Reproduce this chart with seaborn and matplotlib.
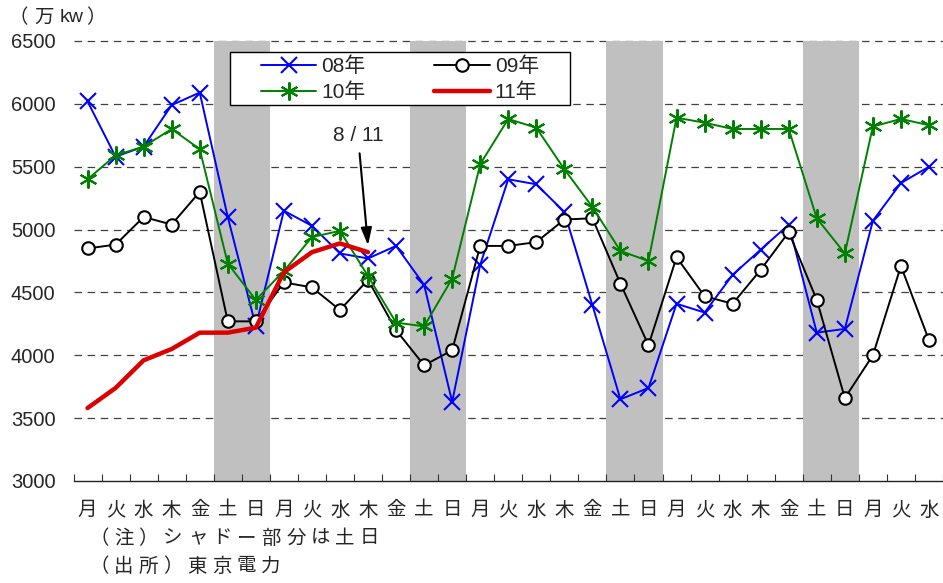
import numpy as np
import matplotlib
matplotlib.use("Agg")
import matplotlib.pyplot as plt
from matplotlib.patches import Rectangle
import seaborn as sns

# Weekday labels for the 31 days shown (Mon start)
days = ["月", "火", "水", "木", "金", "土", "日"] * 4 + ["月", "火", "水"]

# Daily peak demand, 10,000 kW
y08 = [6020, 5580, 5660, 5990, 6090, 5100, 4230, 5150, 5030, 4810, 4770,
       4870, 4560, 3630, 4720, 5400, 5360, 5140, 4400, 3650, 3740,
       4410, 4340, 4640, 4840, 5040, 4180, 4210, 5070, 5370, 5500]
y09 = [4850, 4880, 5100, 5040, 5300, 4270, 4270, 4580, 4540, 4360, 4600,
       4200, 3920, 4040, 4870, 4870, 4900, 5080, 5090, 4570, 4080,
       4780, 4470, 4410, 4680, 4980, 4440, 3660, 4000, 4710, 4120]
y10 = [5400, 5590, 5660, 5800, 5640, 4730, 4440, 4670, 4940, 4990, 4630,
       4260, 4230, 4610, 5520, 5880, 5810, 5480, 5180, 4830, 4750,
       5890, 5850, 5800, 5800, 5800, 5090, 4810, 5820, 5880, 5830]
y11 = [3580, 3740, 3960, 4050, 4180, 4180, 4220, 4660, 4820, 4890, 4820]

yticks = [3000, 3500, 4000, 4500, 5000, 5500, 6000, 6500]
latest_label = "8 / 11"

sns.set_theme(style="white")
plt.rcParams["font.family"] = ["Liberation Sans", "Noto Sans CJK JP"]

W, H = 943, 583
fig = plt.figure(figsize=(W / 100, H / 100), dpi=100)
ax = fig.add_axes([73.5 / W, 1 - 481 / H, (943 - 73.5) / W, (481 - 41) / H])

x = np.arange(len(days))

# weekend shading (Sat + Sun)
for i, d in enumerate(days):
    if d == "土":
        ax.axvspan(i - 0.5, i + 1.5, color="#c0c0c0", lw=0, zorder=1)

# dashed horizontal gridlines, kept under the shading
for v in yticks[1:]:
    ax.axhline(v, color="#404040", lw=0.9, dashes=(6, 4.5), zorder=0.5,
               clip_on=False)

sns.lineplot(x=x, y=y08, ax=ax, color="#0000ff", lw=1.4, marker="x",
             markersize=11, markeredgewidth=1.5, markeredgecolor="#0000ff",
             label="08年", errorbar=None, zorder=3)
sns.lineplot(x=x, y=y09, ax=ax, color="black", lw=1.4, marker="o",
             markersize=9, markeredgewidth=1.5, markeredgecolor="black",
             markerfacecolor="white", label="09年", errorbar=None, zorder=3.2)
sns.lineplot(x=x, y=y10, ax=ax, color="#008000", lw=1.4, marker=(6, 2, 0),
             markersize=13, markeredgewidth=1.5, markeredgecolor="#008000",
             label="10年", errorbar=None, zorder=3.4)
sns.lineplot(x=x[:len(y11)], y=y11, ax=ax, color="#dd0000", lw=3.2,
             label="11年", errorbar=None, zorder=3.6)

ax.set_xlim(-0.5, len(days) - 0.5)
ax.set_ylim(yticks[0], yticks[-1])
ax.set_xticks(x)
ax.set_xticklabels(days, fontsize=14)
ax.set_xticks(np.arange(-0.5, len(days), 1.0), minor=True)
ax.tick_params(axis="x", which="major", length=0, pad=15)
ax.tick_params(axis="x", which="minor", direction="in", length=5,
               width=0.8, color="#333333", bottom=True)
ax.set_yticks(yticks)
ax.set_yticklabels([str(v) for v in yticks], fontsize=14.5)
ax.tick_params(axis="y", length=0, pad=13)
ax.set_xlabel("")
ax.set_ylabel("")
ax.set_axisbelow("line")
for s in ["left", "top", "right"]:
    ax.spines[s].set_visible(False)
ax.spines["bottom"].set_color("#222222")
ax.spines["bottom"].set_linewidth(1.0)

# legend: white framed box, two columns
if ax.get_legend() is not None:
    ax.get_legend().remove()
handles, labels = ax.get_legend_handles_labels()
order = [labels.index(l) for l in ["08年", "10年", "09年", "11年"]]
ax.add_patch(Rectangle((230 / W, 1 - 105 / H), 340 / W, 53 / H,
                       transform=fig.transFigure, facecolor="white",
                       edgecolor="black", lw=1.0, zorder=4.5, clip_on=False))
leg = ax.legend([handles[k] for k in order], [labels[k] for k in order],
                ncol=2, loc="center", bbox_to_anchor=(400 / W, 1 - 79.5 / H),
                bbox_transform=fig.transFigure, frameon=False, fontsize=15,
                handlelength=2.65, handletextpad=0.25, columnspacing=3.3,
                labelspacing=0.32, borderpad=0)
leg.set_zorder(5)

# annotation for the latest day
ax.annotate(latest_label, xy=(len(y11) - 1, y11[-1] + 55), xytext=(9.64, 5752),
            ha="center", va="center", fontsize=15,
            arrowprops=dict(arrowstyle="-|>,head_length=0.7,head_width=0.22",
                            color="black", lw=1.5, shrinkA=4, shrinkB=0),
            zorder=6)


def spaced(chars, centers, y, size):
    for ch, cx in zip(chars, centers):
        fig.text(cx / W, 1 - y / H, ch, ha="center", va="center", fontsize=size)


spaced(["（", "万", "kw", "）"], [18, 44, 72, 96], 18, 14)
note1 = "（注）シャドー部分は土日"
note2 = "（出所）東京電力"
spaced(list(note1), [99 + 24.6 * k for k in range(len(note1))], 539, 14)
spaced(list(note2), [99 + 24.6 * k for k in range(len(note2))], 567, 14)

fig.savefig("out.png", dpi=100)
